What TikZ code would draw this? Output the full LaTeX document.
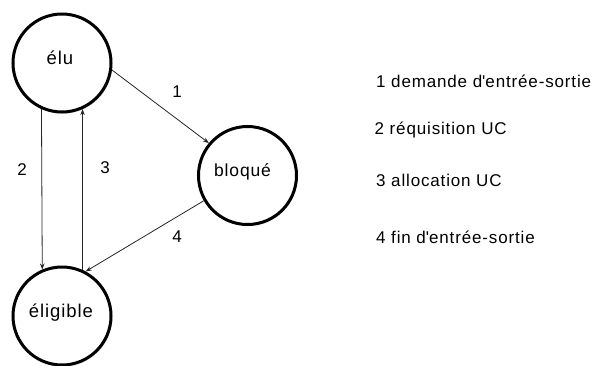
\documentclass[tikz,border=0pt]{standalone}
\usepackage{fontspec}
\setmainfont{Liberation Sans}[LetterSpace=5]
\usetikzlibrary{arrows.meta,shadows}
\begin{document}
\begin{tikzpicture}[x=1pt,y=-1pt,
  state/.style={circle,draw=black,fill=white,line width=3pt,
    minimum size=98pt,inner sep=0pt,
    drop shadow={opacity=0.18,shadow xshift=1.2pt,shadow yshift=-1.8pt}},
  statetext/.style={font=\fontsize{18.5}{20}\selectfont,inner sep=0pt},
  trans/.style={draw=black!85,line width=0.8pt,
    -{Stealth[length=6pt,width=4.5pt]}},
  num/.style={font=\fontsize{17}{19}\selectfont,inner sep=0pt},
  legend/.style={font=\fontsize{17}{19}\selectfont,anchor=west,inner sep=0pt,
    text height=0.72em,text depth=0pt}]
  \useasboundingbox (0,0) rectangle (595,365);

  % the three process states
  \node[state,label={[statetext,xshift=-2pt,yshift=5pt]center:élu}] (elu) at (62,63) {};
  \node[state,label={[statetext,xshift=-1pt,yshift=3pt]center:éligible}] (elig) at (62,316) {};
  \node[state,label={[statetext,font=\fontsize{17.5}{19}\selectfont,xshift=-5pt,yshift=4pt]center:bloqué}] (bloq) at (247.5,175.5) {};

  % transitions
  \draw[trans] (elu.352) -- (bloq.140.6);
  \draw[trans] (elu.246.3) -- (elig.113.7);
  \draw[trans] (elig.66) -- (elu.294);
  \draw[trans] (bloq.210) -- (elig.62.4);

  % transition numbers
  \node[num] (n1) at (177,92) {1};
  \node[num] (n2) at (22,170) {2};
  \node[num] (n3) at (105,168) {3};
  \node[num] (n4) at (177,237) {4};

  % legend
  \node[legend] (l1) at (376,83.5) {1 demande d\textquotesingle entrée-sortie};
  \node[legend] (l2) at (374.5,131) {2 réquisition UC};
  \node[legend] (l3) at (376,183) {3 allocation UC};
  \node[legend] (l4) at (376,240) {4 fin d\textquotesingle entrée-sortie};
\end{tikzpicture}
\end{document}
